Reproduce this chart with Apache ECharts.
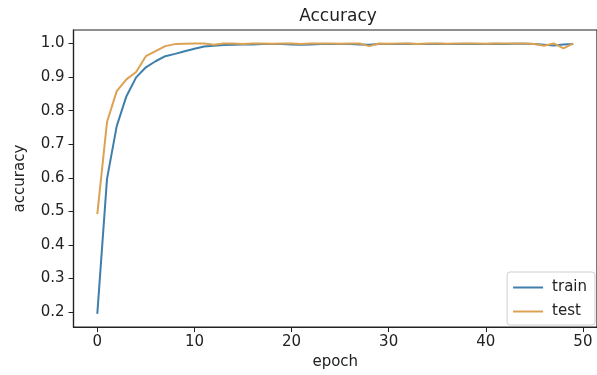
<!DOCTYPE html>
<html>
<head>
<meta charset="utf-8">
<script src="https://cdn.jsdelivr.net/npm/echarts@6/dist/echarts.min.js"></script>
<style>
html,body{margin:0;padding:0;background:#fff;}
#chart{width:597px;height:375px;}
</style>
</head>
<body>
<div id="chart"></div>
<script>
const epochs = Array.from({length: 50}, (_, i) => i);
const trainAcc = [0.195,0.597,0.754,0.843,0.899,0.929,0.947,0.962,0.969,0.977,
  0.984,0.991,0.993,0.995,0.996,0.997,0.997,0.998,0.998,0.998,
  0.997,0.996,0.997,0.998,0.998,0.998,0.998,0.997,0.996,0.998,
  0.998,0.998,0.999,0.998,0.998,0.999,0.998,0.998,0.999,0.998,
  0.998,0.999,0.998,0.999,0.999,0.998,0.996,0.994,0.997,0.998];
const testAcc = [0.492,0.766,0.858,0.893,0.915,0.962,0.977,0.992,0.998,0.999,
  1.0,1.0,0.996,1.0,1.0,0.998,1.0,1.0,0.999,1.0,
  1.0,0.998,1.0,1.0,1.0,0.999,1.0,1.0,0.992,1.0,
  0.999,1.0,1.0,0.998,1.0,1.0,0.999,1.0,1.0,1.0,
  0.999,1.0,1.0,1.0,1.0,0.998,0.993,1.0,0.985,1.0];
const xTicks = [0,10,20,30,40,50];
const yTicks = [0.2,0.3,0.4,0.5,0.6,0.7,0.8,0.9,1.0];
const seriesNames = ['train','test'];
const colors = ['#3f7fab','#dca253'];

const font = 'DejaVu Sans';
const chart = echarts.init(document.getElementById('chart'));
chart.setOption({
  animation: false,
  backgroundColor: '#fff',
  title: {
    text: 'Accuracy', left: 333, top: 3, textAlign: 'center',
    textStyle: {fontFamily: font, fontSize: 17, fontWeight: 'normal', color: '#222'}
  },
  grid: {left: 73.5, right: -6.5, top: 30, bottom: 45, containLabel: false,
    show: true, borderColor: '#222', borderWidth: 1.2, backgroundColor: 'transparent'},
  legend: {
    orient: 'vertical', right: 2, bottom: 50,
    data: seriesNames,
    icon: 'rect', itemWidth: 30, itemHeight: 2, itemGap: 9,
    borderColor: '#d0d0d0', borderWidth: 1, borderRadius: 3,
    padding: [8, 8, 6, 6],
    backgroundColor: '#fff',
    textStyle: {fontFamily: font, fontSize: 15, color: '#222', padding: [0,0,0,4]}
  },
  xAxis: {
    type: 'value', min: -2.45, max: 51.45,
    name: 'epoch', nameLocation: 'middle', nameGap: 27,
    nameTextStyle: {fontFamily: font, fontSize: 15, color: '#222'},
    axisLine: {show: true, onZero: false, lineStyle: {color: '#222', width: 1.2}},
    axisTick: {show: true, inside: false, length: 5, customValues: xTicks, lineStyle: {color: '#222'}},
    axisLabel: {customValues: xTicks, fontFamily: font, fontSize: 15, color: '#222', margin: 8},
    splitLine: {show: false}
  },
  yAxis: {
    type: 'value', min: 0.1556, max: 1.040,
    name: 'accuracy', nameLocation: 'middle', nameGap: 46, nameRotate: 90,
    nameTextStyle: {fontFamily: font, fontSize: 15, color: '#222'},
    axisLine: {show: true, onZero: false, lineStyle: {color: '#222', width: 1.2}},
    axisTick: {show: true, inside: false, length: 5, customValues: yTicks, lineStyle: {color: '#222'}},
    axisLabel: {customValues: yTicks, fontFamily: font, fontSize: 15, color: '#222', margin: 9,
      formatter: v => v.toFixed(1)},
    splitLine: {show: false}
  },
  series: [
    {name: seriesNames[0], type: 'line', data: epochs.map((e,i)=>[e, trainAcc[i]]),
     showSymbol: false, lineStyle: {width: 2, color: colors[0]}, itemStyle: {color: colors[0]}, z: 2},
    {name: seriesNames[1], type: 'line', data: epochs.map((e,i)=>[e, testAcc[i]]),
     showSymbol: false, lineStyle: {width: 2, color: colors[1]}, itemStyle: {color: colors[1]}, z: 3}
  ]
});
</script>
</body>
</html>
